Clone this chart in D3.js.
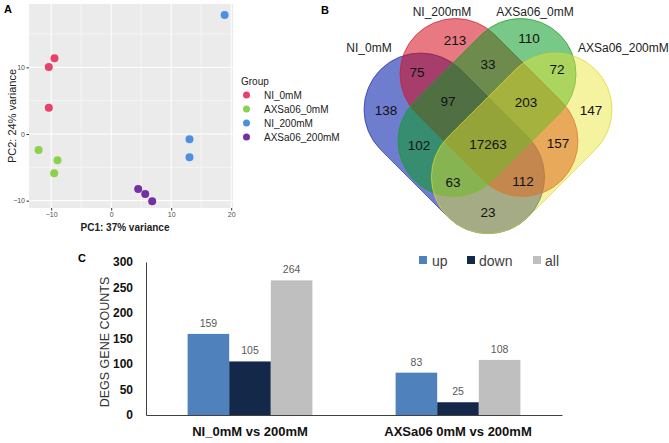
<!DOCTYPE html>
<html><head><meta charset="utf-8">
<script src="https://cdn.jsdelivr.net/npm/d3@7"></script>
<style>body{margin:0;background:#fff;} svg{display:block;font-family:"Liberation Sans",Arial,sans-serif;}</style>
</head><body><svg id="c" width="669" height="443"></svg>
<script>
// ---------- Panel A data (PCA) ----------
const pcaGroups = ["NI_0mM","AXSa06_0mM","NI_200mM","AXSa06_200mM"];
const pcaSampleGroup = ["NI_0mM","NI_0mM","NI_0mM","AXSa06_0mM","AXSa06_0mM","AXSa06_0mM","NI_200mM","NI_200mM","NI_200mM","AXSa06_200mM","AXSa06_200mM","AXSa06_200mM"];
const pc1 = [-9.45,-10.4,-10.4,-12.1,-8.95,-9.5,18.9,13.05,13.05,4.5,5.67,6.83];
const pc2 = [11.35,10.05,3.95,-2.4,-3.95,-5.9,17.85,-0.8,-3.5,-8.25,-9.0,-10.1];
const pcaXTicks = [-10,0,10,20];
const pcaYTicks = [-10,0,10];

// ---------- Panel B data (Venn) ----------
const vennSets = ["NI_0mM","NI_200mM","AXSa06_0mM","AXSa06_200mM"];
const vennRegions = ["1","2","3","4","12","13","14","23","24","34","123","124","134","234","1234"];
const vennCounts = [138,213,110,147,75,102,23,33,157,72,97,112,63,203,17263];

// ---------- Panel C data (bars) ----------
const degCategories = ["NI_0mM vs 200mM","AXSa06 0mM vs 200mM"];
const degSeries = ["up","down","all"];
const degUp = [159,83];
const degDown = [105,25];
const degAll = [264,108];
const degYTicks = [0,50,100,150,200,250,300];

// ---------- styles / layout ----------
const pcaColors = d3.scaleOrdinal().domain(pcaGroups).range(["#E8416B","#8CD14E","#4E8FE0","#7231A3"]);
const degColors = d3.scaleOrdinal().domain(degSeries).range(["#4F81BD","#14284A","#BFBFBF"]);

const svg = d3.select("#c");

// ================= PANEL A =================
const xA = d3.scaleLinear().domain([-13.7,20.3]).range([29,233]);
const yA = d3.scaleLinear().domain([-11.1,19.5]).range([208,4]);
const gA = svg.append("g");
gA.append("rect").attr("x",29).attr("y",4).attr("width",204).attr("height",204).attr("fill","#EBEBEB");
const minorX = pcaXTicks.slice(0,-1).map((t,i)=> (t+pcaXTicks[i+1])/2).concat([-15]).filter(v=>v>=-13.7&&v<=20.3);
const minorY = pcaYTicks.slice(0,-1).map((t,i)=> (t+pcaYTicks[i+1])/2).concat([15]);
gA.selectAll(".mx").data(minorX).join("line").attr("x1",d=>xA(d)).attr("x2",d=>xA(d)).attr("y1",4).attr("y2",208).attr("stroke","#fff").attr("stroke-width",0.5);
gA.selectAll(".my").data(minorY).join("line").attr("y1",d=>yA(d)).attr("y2",d=>yA(d)).attr("x1",29).attr("x2",233).attr("stroke","#fff").attr("stroke-width",0.5);
gA.selectAll(".gx").data(pcaXTicks).join("line").attr("x1",d=>xA(d)).attr("x2",d=>xA(d)).attr("y1",4).attr("y2",208).attr("stroke","#fff").attr("stroke-width",1);
gA.selectAll(".gy").data(pcaYTicks).join("line").attr("y1",d=>yA(d)).attr("y2",d=>yA(d)).attr("x1",29).attr("x2",233).attr("stroke","#fff").attr("stroke-width",1);

const axA_x = gA.append("g").attr("transform","translate(0,208)").call(d3.axisBottom(xA).tickValues(pcaXTicks).tickSize(2.5).tickPadding(1.5));
const axA_y = gA.append("g").attr("transform","translate(29,0)").call(d3.axisLeft(yA).tickValues(pcaYTicks).tickSize(2.5).tickPadding(1.5));
[axA_x,axA_y].forEach(a=>{a.select(".domain").remove();a.selectAll("line").attr("stroke","#333");a.selectAll("text").attr("fill","#4D4D4D").style("font-size","7px");});

gA.selectAll("circle.pt").data(pc1.map((v,i)=>({x:v,y:pc2[i],g:pcaSampleGroup[i]}))).join("circle")
  .attr("cx",d=>xA(d.x)).attr("cy",d=>yA(d.y)).attr("r",4).attr("fill",d=>pcaColors(d.g));

gA.append("text").attr("x",125).attr("y",231).attr("text-anchor","middle").style("font-size","10px").style("font-weight","bold").attr("fill","#222").text("PC1: 37% variance");
gA.append("text").attr("transform","translate(16,116) rotate(-90)").attr("text-anchor","middle").style("font-size","11px").attr("fill","#222").text("PC2: 24% variance");
gA.append("text").attr("x",4).attr("y",13).style("font-size","11px").style("font-weight","bold").text("A");

// legend A
const lgA = gA.append("g");
lgA.append("text").attr("x",241).attr("y",85).style("font-size","10px").attr("fill","#222").text("Group");
pcaGroups.forEach((g,i)=>{
  lgA.append("circle").attr("cx",246.5).attr("cy",95+i*14).attr("r",3.5).attr("fill",pcaColors(g));
  lgA.append("text").attr("x",264).attr("y",98.5+i*14).style("font-size",
    "10px").attr("fill","#222").text(g);
});

// ================= PANEL B =================
const gB = svg.append("g");
gB.append("text").attr("x",321).attr("y",14).style("font-size","11px").style("font-weight","bold").text("B");
const vennShapes = [
  {c1:[420.6,109.6], c2:[488,177], r:56.6, fill:"rgb(13,38,172)", op:0.6, stroke:"#2233AA"},
  {c1:[455.5,74], c2:[522.5,141], r:55.5, fill:"rgb(213,10,28)", op:0.55, stroke:"#CC2233"},
  {c1:[520.5,74], c2:[453.5,141], r:55.5, fill:"rgb(10,155,37)", op:0.55, stroke:"#229933"},
  {c1:[555.4,109.6], c2:[488,177], r:56.6, fill:"rgb(233,228,44)", op:0.45, stroke:"#D8D830"}
];
function capsule(s){
  const [c1,c2,r]=[s.c1,s.c2,s.r];
  const th = Math.atan2(c2[1]-c1[1], c2[0]-c1[0]);
  const a0 = th - Math.PI/2;
  const p = d3.path();
  p.moveTo(c1[0]+r*Math.cos(a0), c1[1]+r*Math.sin(a0));
  p.lineTo(c2[0]+r*Math.cos(a0), c2[1]+r*Math.sin(a0));
  p.arc(c2[0],c2[1],r,a0,a0+Math.PI);
  p.arc(c1[0],c1[1],r,a0+Math.PI,a0+2*Math.PI);
  p.closePath();
  return p.toString();
}
gB.selectAll("path.set").data(vennShapes).join("path").attr("d",capsule)
  .attr("fill",d=>d.fill).attr("fill-opacity",d=>d.op).attr("stroke",d=>d.stroke).attr("stroke-width",0.8).attr("stroke-opacity",0.9);

const vennLabelPos = {"1":[386,110],"2":[455,40],"3":[529,38],"4":[591,110],"12":[417,72],"13":[419,145],"14":[488,212],"23":[488,64],"24":[558,143],"34":[557,69],"123":[448,101],"124":[523,181],"134":[453,182],"234":[526,102],"1234":[488,144]};
gB.selectAll("text.cnt").data(vennRegions.map((r,i)=>({r,v:vennCounts[i]}))).join("text")
  .attr("x",d=>vennLabelPos[d.r][0]).attr("y",d=>vennLabelPos[d.r][1]+5).attr("text-anchor","middle")
  .style("font-size","13.5px").attr("fill","#111").text(d=>d.v);
const vennSetLabelPos = [[369,52,"middle"],[442,16,"middle"],[535,16,"middle"],[578,52,"start"]];
vennSets.forEach((s,i)=>{
  gB.append("text").attr("x",vennSetLabelPos[i][0]).attr("y",vennSetLabelPos[i][1]).attr("text-anchor",vennSetLabelPos[i][2])
    .style("font-size","12px").attr("fill","#222").text(s);
});

// ================= PANEL C =================
const gC = svg.append("g");
const x0 = d3.scaleBand().domain(degCategories).range([146,562]).paddingInner(0).paddingOuter(0);
const x1 = d3.scaleBand().domain(degSeries).range([0,x0.bandwidth()]).paddingInner(0).paddingOuter(1);
const yC = d3.scaleLinear().domain([0,300]).range([415,262]);
const degVals = {up:degUp, down:degDown, all:degAll};

const axC_y = gC.append("g").attr("transform","translate(146,0)").call(d3.axisLeft(yC).tickValues(degYTicks).tickSize(0).tickPadding(13));
axC_y.select(".domain").attr("stroke","#404040").attr("stroke-width",1);
axC_y.selectAll("text").style("font-size","12px").style("font-weight","bold").attr("fill","#111");

const bars = [];
degCategories.forEach((c,ci)=>degSeries.forEach(s=>bars.push({c,s,v:degVals[s][ci]})));
gC.selectAll("rect.bar").data(bars).join("rect")
  .attr("x",d=>x0(d.c)+x1(d.s)).attr("width",x1.bandwidth())
  .attr("y",d=>yC(d.v)).attr("height",d=>yC(0)-yC(d.v)).attr("fill",d=>degColors(d.s));
gC.selectAll("text.val").data(bars).join("text")
  .attr("x",d=>x0(d.c)+x1(d.s)+x1.bandwidth()/2).attr("y",d=>yC(d.v)-7).attr("text-anchor","middle")
  .style("font-size","10.5px").attr("fill","#595959").text(d=>d.v);

const axC_x = gC.append("g").attr("transform","translate(0,415)").call(d3.axisBottom(x0).tickSize(0).tickPadding(12));
axC_x.select(".domain").attr("stroke","#404040").attr("stroke-width",1.2);
axC_x.selectAll("text").style("font-size","13px").style("font-weight","bold").attr("fill","#111");

gC.append("text").attr("transform","translate(109,342) rotate(-90)").attr("text-anchor","middle").style("font-size","12.5px").attr("fill","#333").text("DEGS GENE COUNTS");
gC.append("text").attr("x",78).attr("y",262).style("font-size","11px").style("font-weight","bold").text("C");

const lgC = [[419,432],[467,479],[533,545]];
degSeries.forEach((s,i)=>{
  gC.append("rect").attr("x",lgC[i][0]).attr("y",256).attr("width",8).attr("height",8).attr("fill",degColors(s));
  gC.append("text").attr("x",lgC[i][1]).attr("y",265.5).style("font-size","14px").attr("fill","#404040").text(s);
});
</script>
</body></html>
